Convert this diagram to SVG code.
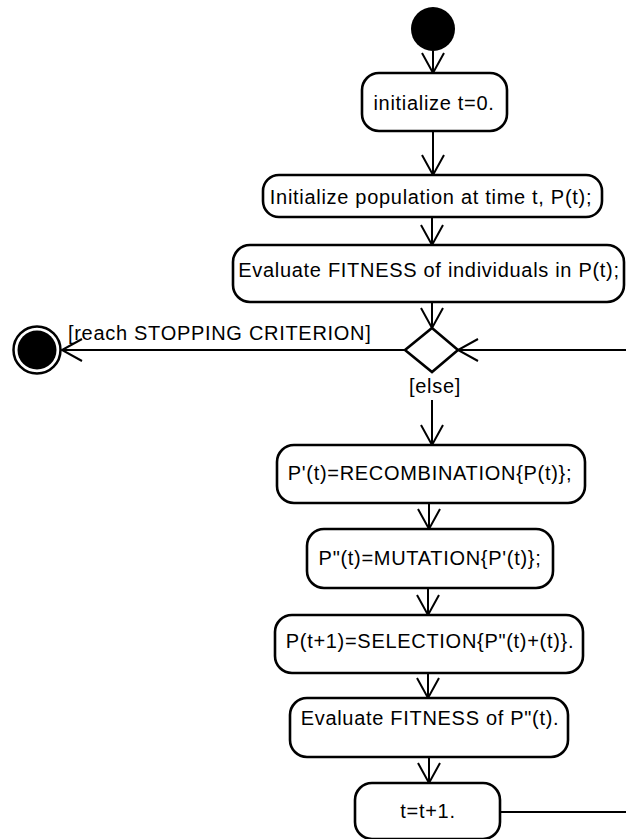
<svg xmlns="http://www.w3.org/2000/svg" width="626" height="839" viewBox="0 0 626 839">
  <style>
    .node rect { fill: #ffffff; stroke: #000000; stroke-width: 2.6; }
    .node text, .label { font-family: "Liberation Sans", Arial, sans-serif; font-size: 20px; letter-spacing: 0.7px; fill: #000000; }
    .node text { text-anchor: middle; }
    .edge { fill: none; stroke: #000000; stroke-width: 2; marker-end: url(#open); }
    .plain { fill: none; stroke: #000000; stroke-width: 2; }
  </style>
  <defs>
    <!-- open V arrowhead used by all control-flow edges -->
    <marker id="open" markerUnits="userSpaceOnUse" markerWidth="26" markerHeight="28" refX="22" refY="12" orient="auto" viewBox="0 0 26 24">
      <path d="M 2 1 L 22 12 L 2 23" fill="none" stroke="#000000" stroke-width="2"/>
    </marker>
  </defs>

  <rect width="626" height="839" fill="#ffffff"/>

  <!-- connectors -->
  <g id="connectors">
    <line class="edge" x1="433" y1="51" x2="433" y2="73"/>
    <line class="edge" x1="433" y1="131" x2="433" y2="175"/>
    <line class="edge" x1="432" y1="217" x2="432" y2="245"/>
    <line class="edge" x1="432" y1="302" x2="432" y2="328"/>
    <line class="edge" x1="405" y1="350" x2="62" y2="350"/>
    <line class="edge" x1="432" y1="400" x2="432" y2="445"/>
    <line class="edge" x1="429" y1="503" x2="429" y2="529"/>
    <line class="edge" x1="428" y1="588" x2="428" y2="615"/>
    <line class="edge" x1="428" y1="673" x2="428" y2="698"/>
    <line class="edge" x1="429" y1="757" x2="429" y2="783"/>
    <!-- loop back from the counter update to the decision -->
    <line class="plain" x1="500" y1="812" x2="626" y2="812"/>
    <line class="edge" x1="626" y1="350" x2="458" y2="350"/>
    <text class="label" x="68" y="340">[reach STOPPING CRITERION]</text>
    <text class="label" x="435" y="393" text-anchor="middle">[else]</text>
  </g>

  <g id="start">
    <circle cx="433" cy="29" r="22" fill="#000000"/>
  </g>

  <g id="end">
    <circle cx="37" cy="350" r="23.5" fill="none" stroke="#000000" stroke-width="2.5"/>
    <circle cx="37" cy="350" r="19.5" fill="#000000"/>
  </g>

  <g id="decision">
    <polygon points="432,328 458,350 432,372 405,350" fill="#ffffff" stroke="#000000" stroke-width="2.6"/>
  </g>

  <g id="init-t" class="node">
    <rect x="362" y="73" width="145" height="58" rx="17"/>
    <text x="434" y="110">initialize t=0.</text>
  </g>

  <g id="init-pop" class="node">
    <rect x="263" y="175" width="339" height="42" rx="16"/>
    <text x="431" y="204">Initialize population at time t, P(t);</text>
  </g>

  <g id="eval-pop" class="node">
    <rect x="233" y="245" width="391" height="57" rx="17"/>
    <text x="429" y="277">Evaluate FITNESS of individuals in P(t);</text>
  </g>

  <g id="recombination" class="node">
    <rect x="277" y="445" width="308" height="58" rx="17"/>
    <text x="430" y="480">P'(t)=RECOMBINATION{P(t)};</text>
  </g>

  <g id="mutation" class="node">
    <rect x="307" y="529" width="246" height="59" rx="17"/>
    <text x="430" y="565">P"(t)=MUTATION{P'(t)};</text>
  </g>

  <g id="selection" class="node">
    <rect x="275" y="615" width="308" height="58" rx="17"/>
    <text x="430" y="648">P(t+1)=SELECTION{P"(t)+(t)}.</text>
  </g>

  <g id="eval-offspring" class="node">
    <rect x="290" y="698" width="278" height="59" rx="17"/>
    <text x="430" y="725">Evaluate FITNESS of P"(t).</text>
  </g>

  <g id="increment" class="node">
    <rect x="355" y="783" width="145" height="56" rx="17"/>
    <text x="428" y="818">t=t+1.</text>
  </g>
</svg>
